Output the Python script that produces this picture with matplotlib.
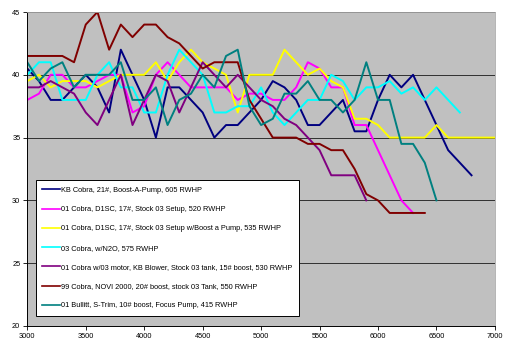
import numpy as np
import matplotlib
matplotlib.use("Agg")
import matplotlib.pyplot as plt

plt.rcParams['font.family'] = ['Liberation Sans', 'DejaVu Sans']

# rpm axis, every series starts at 3000 with 100 rpm steps
rpm_start = 3000
rpm_step = 100

kb_cobra = [40.5, 39.5, 38, 38, 39, 40, 39, 37, 42, 40,
            38, 35, 39, 39, 38, 37, 35, 36, 36, 37,
            38, 39.5, 39, 38, 36, 36, 37, 38, 35.5, 35.5,
            38, 40, 39, 40, 38, 36, 34, 33, 32]
d1sc_520 = [38, 38.5, 40, 40, 39, 39, 39.5, 40, 40, 37,
            37.5, 40, 41, 40, 39, 39, 39, 39, 38, 38.5,
            38.5, 38, 38, 39, 41, 40.5, 39, 39, 36, 36,
            34, 32, 30, 29]
d1sc_535 = [39.5, 40, 39, 39.5, 39.5, 39.5, 39, 39.5, 40, 40,
            40, 41, 39.5, 41, 42, 41, 40.5, 40, 37, 40,
            40, 40, 42, 41, 40, 40.5, 39.5, 39, 36.5, 36.5,
            36, 35, 35, 35, 35, 36, 35, 35, 35, 35, 35]
n2o_575 = [40, 41, 41, 38, 38, 38, 40, 41, 39, 39,
           37, 37, 40, 42, 41, 40, 37, 37, 37.5, 37.5,
           39, 37, 36, 37, 38, 38, 40, 39.5, 38, 39,
           39, 39.5, 38.5, 39, 38, 39, 38, 37]
kb_blower = [39, 39, 39.5, 39, 38.5, 37, 36, 38, 40, 36,
             38, 40, 39.5, 37, 39, 41, 40, 39, 40, 39,
             38, 37.5, 36.5, 36, 35, 34, 32, 32, 32, 30]
novi_2000 = [41.5, 41.5, 41.5, 41.5, 41, 44, 45, 42, 44, 43,
             44, 44, 43, 42.5, 41.5, 40.5, 41, 41, 41, 38,
             36.5, 35, 35, 35, 34.5, 34.5, 34, 34, 32.5, 30.5,
             30, 29, 29, 29, 29]
bullitt = [41, 39.5, 40.5, 41, 39, 40, 40, 40, 41, 38,
           38, 39, 36, 38, 38.5, 40, 39, 41.5, 42, 37.5,
           36, 36.5, 38.5, 38.5, 39.5, 38, 38, 37, 38, 41,
           38, 38, 34.5, 34.5, 33, 30]

serie = [
    (kb_cobra, '#000080', 'KB Cobra, 21#, Boost-A-Pump, 605 RWHP'),
    (d1sc_520, '#FF00FF', '01 Cobra, D1SC, 17#, Stock 03 Setup, 520 RWHP'),
    (d1sc_535, '#FFFF00', '01 Cobra, D1SC, 17#, Stock 03 Setup w/Boost a Pump, 535 RWHP'),
    (n2o_575, '#00FFFF', '03 Cobra, w/N2O, 575 RWHP'),
    (kb_blower, '#800080', '01 Cobra w/03 motor, KB Blower, Stock 03 tank, 15# boost, 530 RWHP'),
    (novi_2000, '#800000', '99 Cobra, NOVI 2000, 20# boost, stock 03 Tank, 550 RWHP'),
    (bullitt, '#008080', '01 Bullitt, S-Trim, 10# boost, Focus Pump, 415 RWHP'),
]

fig = plt.figure(figsize=(5.15, 3.53), dpi=100)
ax = fig.add_axes([0.053, 0.0765, 0.908, 0.8895])
ax.set_facecolor('#C0C0C0')

for wartosci, kolor, etykieta in serie:
    x = rpm_start + rpm_step * np.arange(len(wartosci))
    ax.plot(x, wartosci, color=kolor, lw=1.4, label=etykieta)

ax.set_xlim(3000, 7000)
ax.set_ylim(20, 45)
ax.set_xticks(np.arange(3000, 7001, 500))
ax.set_yticks(np.arange(20, 46, 5))
ax.tick_params(labelsize=5.3, direction='out', length=3, width=0.6, pad=2)
ax.grid(axis='y', color='#303030', lw=0.7)
ax.set_axisbelow(True)

for strona in ['left', 'bottom']:
    ax.spines[strona].set_linewidth(0.7)
for strona in ['top', 'right']:
    ax.spines[strona].set_color('#A8A8A8')
    ax.spines[strona].set_linewidth(0.6)

leg = ax.legend(loc='lower left', bbox_to_anchor=(0.0693, 0.105), bbox_transform=fig.transFigure,
                fontsize=5.3, frameon=True, fancybox=False, framealpha=1, edgecolor='black',
                labelspacing=1.64, handlelength=2.4, handletextpad=0.1, borderpad=0.9,
                borderaxespad=0)
leg.get_frame().set_linewidth(0.7)
for linia in leg.get_lines():
    linia.set_linewidth(1.2)

fig.savefig('out.png', dpi=100)
